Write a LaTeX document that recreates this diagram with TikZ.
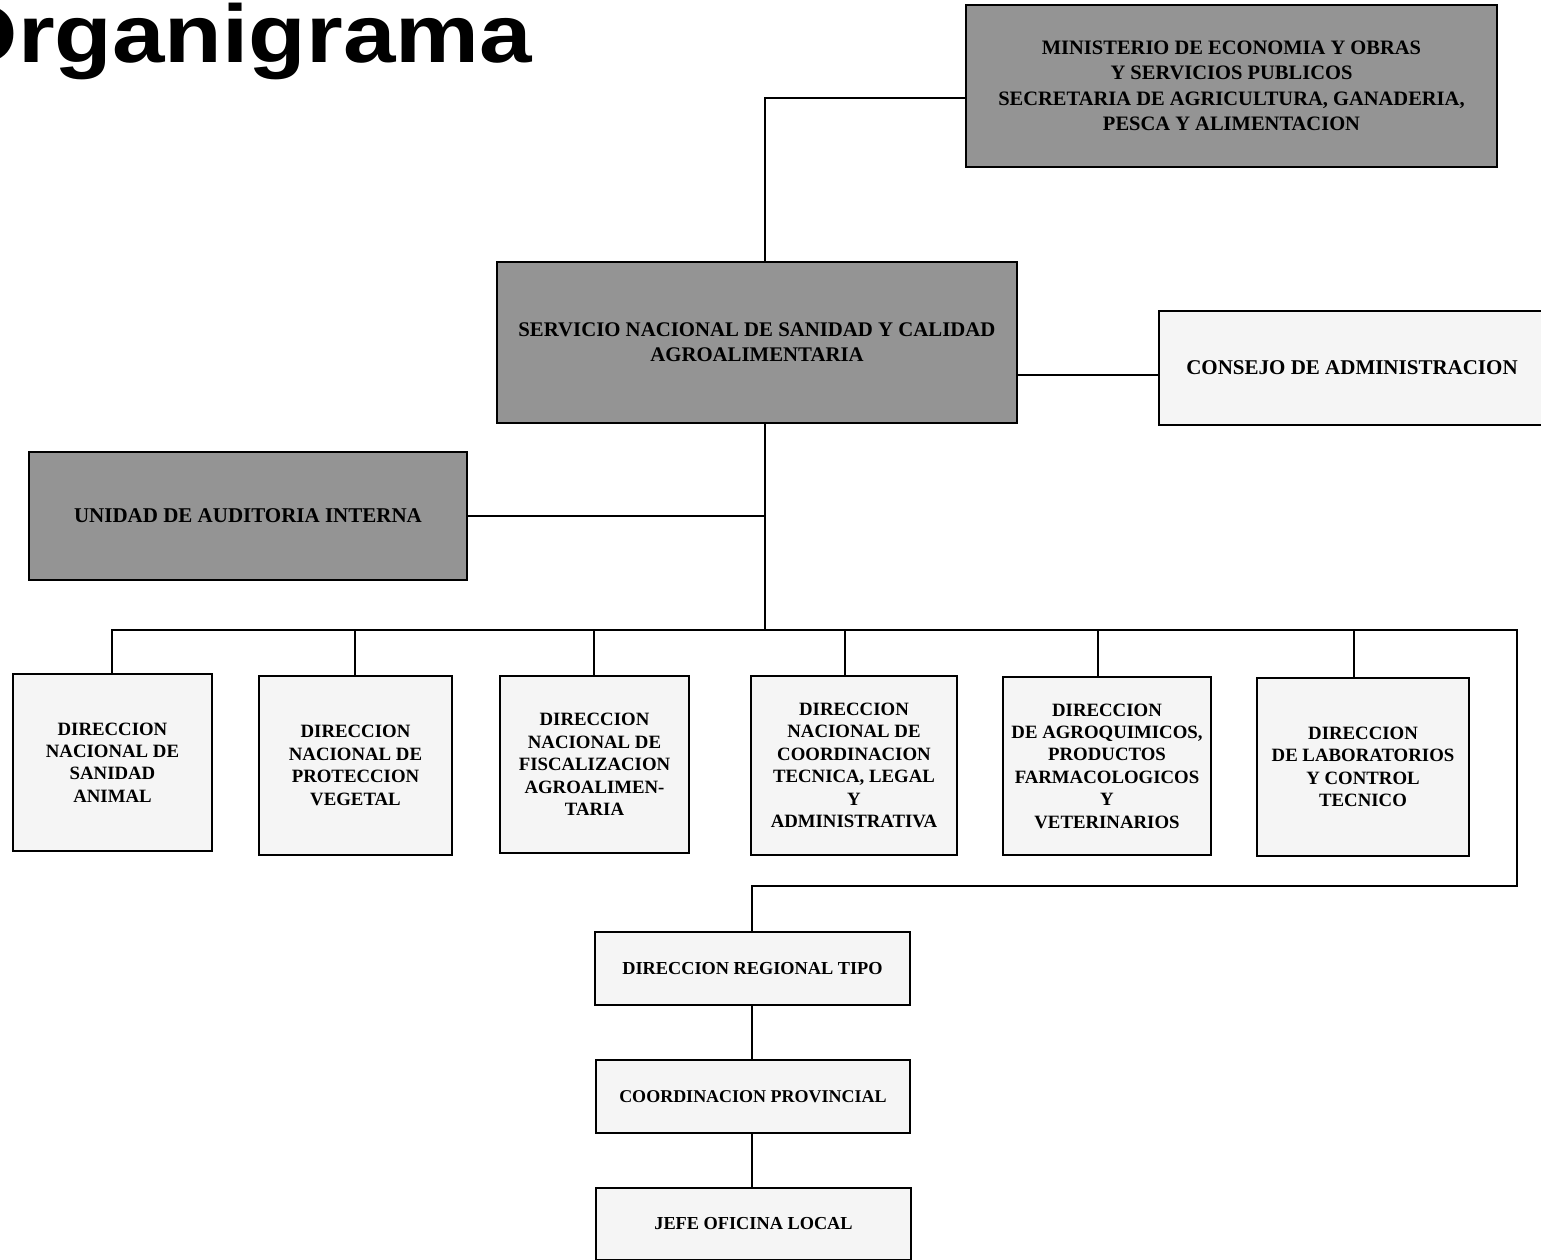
\documentclass[tikz,border=0pt]{standalone}
\usepackage{fontspec}
\setmainfont{Liberation Serif}
\newfontfamily\titlefont[FakeStretch=1.15]{Liberation Sans}
\begin{document}
\begin{tikzpicture}[x=1pt,y=-1pt,
  darkbox/.style={draw=black, line width=2pt, fill=black!42, align=center, inner sep=0pt,
    font=\bfseries\fontsize{20.5}{25.5}\selectfont},
  lightbox/.style={draw=black, line width=2pt, fill=black!4, align=center, inner sep=0pt,
    font=\bfseries\fontsize{18.8}{22.4}\selectfont},
  conn/.style={draw=black, line width=1.8pt}]
\useasboundingbox (0,0) rectangle (1541,1260);
\fill[white] (0,0) rectangle (1541,1260);

% title
\node[anchor=base east, inner sep=0pt, font=\titlefont\bfseries\fontsize{82}{82}\selectfont] (title) at (532,63) {Organigrama};

% top level boxes
\node[darkbox, minimum width=531, minimum height=162] (mini) at (1231.5,86)
  {MINISTERIO DE ECONOMIA Y OBRAS\\Y SERVICIOS PUBLICOS\\SECRETARIA DE AGRICULTURA, GANADERIA,\\PESCA Y ALIMENTACION};
\node[darkbox, minimum width=520, minimum height=161, font=\bfseries\fontsize{20.8}{25}\selectfont] (serv) at (757,342.5)
  {SERVICIO NACIONAL DE SANIDAD Y CALIDAD\\AGROALIMENTARIA};
\node[lightbox, minimum width=391, minimum height=114, font=\bfseries\fontsize{21}{25}\selectfont] (cons) at (1354.5,368) {};
\node[font=\bfseries\fontsize{21}{25}\selectfont, inner sep=0pt] (consT) at (1352,368) {CONSEJO DE ADMINISTRACION};
\node[darkbox, minimum width=438, minimum height=128, font=\bfseries\fontsize{21}{25}\selectfont] (unid) at (248,516)
  {UNIDAD DE AUDITORIA INTERNA};

% direcciones
\node[lightbox, minimum width=199, minimum height=177] (b1) at (112.5,762.5)
  {DIRECCION\\NACIONAL DE\\SANIDAD\\ANIMAL};
\node[lightbox, minimum width=193, minimum height=179] (b2) at (355.5,765.5)
  {DIRECCION\\NACIONAL DE\\PROTECCION\\VEGETAL};
\node[lightbox, minimum width=189, minimum height=177] (b3) at (594.5,764.5)
  {DIRECCION\\NACIONAL DE\\FISCALIZACION\\AGROALIMEN-\\TARIA};
\node[lightbox, minimum width=206, minimum height=179] (b4) at (854,765.5)
  {DIRECCION\\NACIONAL DE\\COORDINACION\\TECNICA, LEGAL\\Y\\ADMINISTRATIVA};
\node[lightbox, minimum width=208, minimum height=178] (b5) at (1107,766)
  {DIRECCION\\DE AGROQUIMICOS,\\PRODUCTOS\\FARMACOLOGICOS\\Y\\VETERINARIOS};
\node[lightbox, minimum width=212, minimum height=178] (b6) at (1363,767)
  {DIRECCION\\DE LABORATORIOS\\Y CONTROL\\TECNICO};

% regional chain
\node[lightbox, minimum width=315, minimum height=73, font=\bfseries\fontsize{18.3}{22}\selectfont] (reg) at (752.5,968.5)
  {DIRECCION REGIONAL TIPO};
\node[lightbox, minimum width=314, minimum height=73, font=\bfseries\fontsize{18}{22}\selectfont] (prov) at (753,1096.5)
  {COORDINACION PROVINCIAL};
\node[lightbox, minimum width=315, minimum height=72, font=\bfseries\fontsize{18.3}{22}\selectfont] (jefe) at (753.5,1224)
  {JEFE OFICINA LOCAL};

% coordinates of the connector routes
\coordinate (top) at (765,98);
\coordinate (tk) at (765,630);
\coordinate (busL) at (112,630);
\coordinate (busR) at (1517,630);
\coordinate (loopB) at (1517,886);
\coordinate (regT) at (752,886);
\coordinate (sc) at (0,375);

% connectors
\draw[conn] (top -| mini.west) -- (top) -- (top |- serv.north);
\draw[conn] (sc -| serv.east) -- (sc -| cons.west);
\draw[conn] (tk |- serv.south) -- (tk);
\draw[conn] (unid.east) -- (unid.east -| tk);
\draw[conn] (busL |- b1.north) -- (busL) -- (busR) -- (loopB) -- (regT) -- (regT |- reg.north);
\draw[conn] (355,630) -- (355,630 |- b2.north);
\draw[conn] (594,630) -- (594,630 |- b3.north);
\draw[conn] (845,630) -- (845,630 |- b4.north);
\draw[conn] (1098,630) -- (1098,630 |- b5.north);
\draw[conn] (1354,630) -- (1354,630 |- b6.north);
\draw[conn] (regT |- reg.south) -- (regT |- prov.north);
\draw[conn] (regT |- prov.south) -- (regT |- jefe.north);
\end{tikzpicture}
\end{document}
